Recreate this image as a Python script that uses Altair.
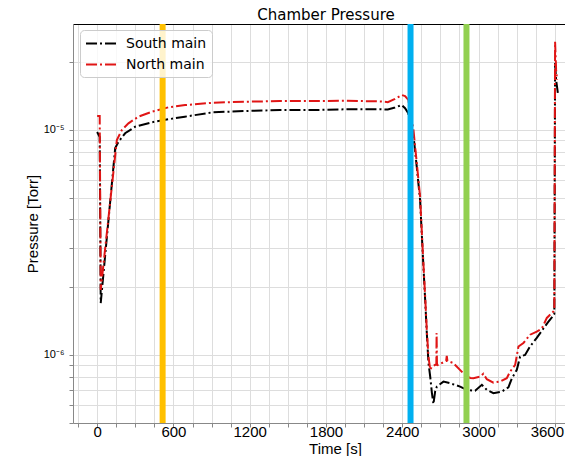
import altair as alt
import pandas as pd
import math

# ---- data ----
south_t = [0, 20, 28, 142, 168, 220, 299, 430, 561, 690, 910, 1177, 1437, 1697, 1963, 2224,
           2286, 2343, 2396, 2422, 2446, 2488, 2514, 2540, 2553, 2566, 2580, 2593, 2606, 2620,
           2633, 2645, 2659, 2672, 2724, 2777, 2855, 2907, 2973, 3026, 3065, 3117, 3183, 3235,
           3262, 3301, 3327, 3366, 3405, 3458, 3510, 3547, 3586, 3596, 3602, 3610, 3626]
south_p = [9.8e-6, 9.3e-6, 1.70e-6, 8.32e-6, 8.87e-6, 9.67e-6, 1.034e-5, 1.082e-5, 1.116e-5,
           1.146e-5, 1.199e-5, 1.215e-5, 1.227e-5, 1.227e-5, 1.236e-5, 1.236e-5,
           1.233e-5, 1.259e-5, 1.291e-5, 1.25e-5, 1.19e-5, 9.5e-6, 6.85e-6, 4.89e-6, 3.49e-6,
           2.49e-6, 1.76e-6, 1.25e-6, 9.21e-7, 7.98e-7,
           6.78e-7, 6.05e-7, 6.9e-7, 7.23e-7, 7.61e-7, 7.48e-7, 7.23e-7, 6.99e-7, 6.93e-7,
           7.36e-7, 6.99e-7, 6.76e-7, 6.87e-7, 7.18e-7,
           7.87e-7, 8.58e-7, 9.83e-7, 1.0e-6, 1.09e-6, 1.19e-6, 1.31e-6, 1.40e-6, 1.49e-6,
           1.52e-6, 1.99e-5, 1.67e-5, 1.43e-5]

north_t = [0, 20, 28, 155, 194, 246, 325, 430, 561, 692, 910, 1177, 1437, 1697, 1963, 2224,
           2286, 2343, 2396, 2422, 2448, 2488, 2514, 2540, 2553, 2566, 2580, 2593, 2606, 2620,
           2633, 2659, 2668, 2670, 2673, 2677, 2745, 2750, 2755, 2800, 2878, 2934, 2960, 3012,
           3038, 3065, 3117, 3170, 3222, 3248, 3288, 3314, 3353, 3406, 3458, 3498, 3537, 3589,
           3596, 3602, 3610, 3618]
north_p = [1.154e-5, 1.154e-5, 1.945e-6, 9.03e-6, 1.0e-5, 1.071e-5, 1.146e-5, 1.206e-5,
           1.262e-5, 1.291e-5, 1.322e-5, 1.336e-5, 1.345e-5, 1.345e-5, 1.349e-5, 1.34e-5,
           1.33e-5, 1.374e-5, 1.43e-5, 1.415e-5, 1.36e-5, 1.0e-5, 7.14e-6, 5.06e-6, 3.59e-6,
           2.56e-6, 1.82e-6, 1.29e-6, 9.82e-7, 8.58e-7,
           8.87e-7, 9.03e-7, 9.03e-7, 1.25e-6, 9.03e-7, 9.0e-7, 9.4e-7, 9.9e-7, 9.4e-7,
           9.21e-7, 8.31e-7, 7.9e-7, 7.88e-7, 8.01e-7,
           8.24e-7, 7.8e-7, 7.53e-7, 7.62e-7, 7.88e-7, 8.43e-7, 9.03e-7, 1.09e-6, 1.13e-6,
           1.23e-6, 1.27e-6, 1.31e-6, 1.46e-6, 1.56e-6,
           1.6e-6, 2.47e-5, 1.85e-5, 1.67e-5]

series_names = ["South main", "North main"]
series_colors = ["black", "#e01515"]

marker_t = [515, 2465, 2905]
marker_colors = ["#FFC000", "#00B0F0", "#92D050"]

x_label_values = [0, 600, 1200, 1800, 2400, 3000, 3600]
x_grid_values = [-150, 0, 150, 300, 450, 600, 750, 900, 1050, 1200, 1350, 1500, 1650, 1800,
                 1950, 2100, 2250, 2400, 2550, 2700, 2850, 3000, 3150, 3300, 3450, 3600]
y_grid_values = [5e-7, 6e-7, 7e-7, 8e-7, 9e-7, 1e-6, 2e-6, 3e-6, 4e-6, 5e-6, 6e-6, 7e-6,
                 8e-6, 9e-6, 1e-5, 2e-5]
y_label_values = [1e-6, 1e-5]
y_label_texts = ["10⁻⁶", "10⁻⁵"]

# ---- tables ----
df = pd.concat([
    pd.DataFrame({"t": south_t, "p": south_p, "series": series_names[0]}),
    pd.DataFrame({"t": north_t, "p": north_p, "series": series_names[1]}),
], ignore_index=True)
mdf = pd.DataFrame({"t": marker_t, "c": marker_colors})

x_expr = "indexof([" + ",".join(str(v) for v in x_label_values) + "], datum.value) >= 0 ? format(datum.value, 'd') : ''"
y_expr = ""
for v, s in zip(y_label_values, y_label_texts):
    y_expr += f"abs(log(datum.value)/LN10 - ({math.log10(v)})) < 0.001 ? '{s}' : "
y_expr += "''"

dash = [11, 3, 2, 3]
xs = alt.Scale(domain=[-190, 3680], nice=False, zero=False)
ys = alt.Scale(type="log", domain=[4.98e-7, 2.96e-5], nice=False)

legend = alt.Legend(
    title=None, orient="none", legendX=7, legendY=6,
    symbolType="M-1,0H3", symbolSize=225, symbolStrokeWidth=2, symbolDash=dash,
    labelFont="DejaVu Sans", labelFontSize=14, labelColor="black", labelOffset=24,
    rowPadding=5, padding=5, fillColor="rgba(255,255,255,0.8)", strokeColor="#cccccc",
    cornerRadius=4,
)

last_label = x_label_values[-1]
base = alt.Chart(df).mark_line(strokeWidth=2, clip=True).encode(
    x=alt.X("t:Q", scale=xs, axis=alt.Axis(
        values=x_grid_values, labelExpr=x_expr, title="Time [s]",
        tickSize=4, labelPadding=-3, labelFontSize=15, titleFontSize=15, titleFontWeight="normal",
        titleX=262, titleY=30, titleBaseline="alphabetic",
        labelFlush=False, labelOverlap=False,
        labelOffset={"condition": {"test": f"datum.value == {last_label}", "value": -8}, "value": 0},
    )),
    y=alt.Y("p:Q", scale=ys, axis=alt.Axis(
        values=y_grid_values, labelExpr=y_expr, title="Pressure [Torr]",
        tickSize=4, labelPadding=5, labelFontSize=11, titleFontSize=15, titleFontWeight="normal",
        titleX=-41, titleY=199.5, titleAngle=270, titleBaseline="middle",
        labelOverlap=False, labelFlush=False,
    )),
    color=alt.Color("series:N", scale=alt.Scale(domain=series_names, range=series_colors), legend=legend),
    strokeDash=alt.StrokeDash("series:N", scale=alt.Scale(domain=series_names, range=[dash, dash]), legend=None),
)

south_line = base.transform_filter(alt.datum.series == series_names[0])
north_line = base.transform_filter(alt.datum.series == series_names[1])
lines = alt.layer(south_line, north_line)

rules = alt.Chart(mdf).mark_rule(strokeWidth=6).encode(
    x=alt.X("t:Q", scale=xs, axis=alt.Axis(orient="top", labels=False, ticks=False, grid=False,
                                            title=None, domainColor="black", domainWidth=1)),
    stroke=alt.Stroke("c:N", scale=None),
)

chart = alt.layer(lines, rules).resolve_axis(x="independent").properties(
    width=492, height=399,
    padding={"left": 65, "top": 16, "right": 0, "bottom": 33},
    autosize=alt.AutoSizeParams(type="none"),
    title=alt.TitleParams("Chamber Pressure", font="DejaVu Sans", fontSize=15, fontWeight="normal",
                          color="black", anchor="middle", offset=4, dx=7, dy=6),
).configure_view(stroke=None).configure_axis(
    labelFont="Liberation Sans", titleFont="Liberation Sans", labelColor="black", titleColor="black",
    tickColor="black", domainColor="black", gridColor="#aaaaaa", gridWidth=1, titleFontWeight="normal",
).configure(background="white")

chart.save("out.html", embed_options={"renderer": "svg", "actions": False})
